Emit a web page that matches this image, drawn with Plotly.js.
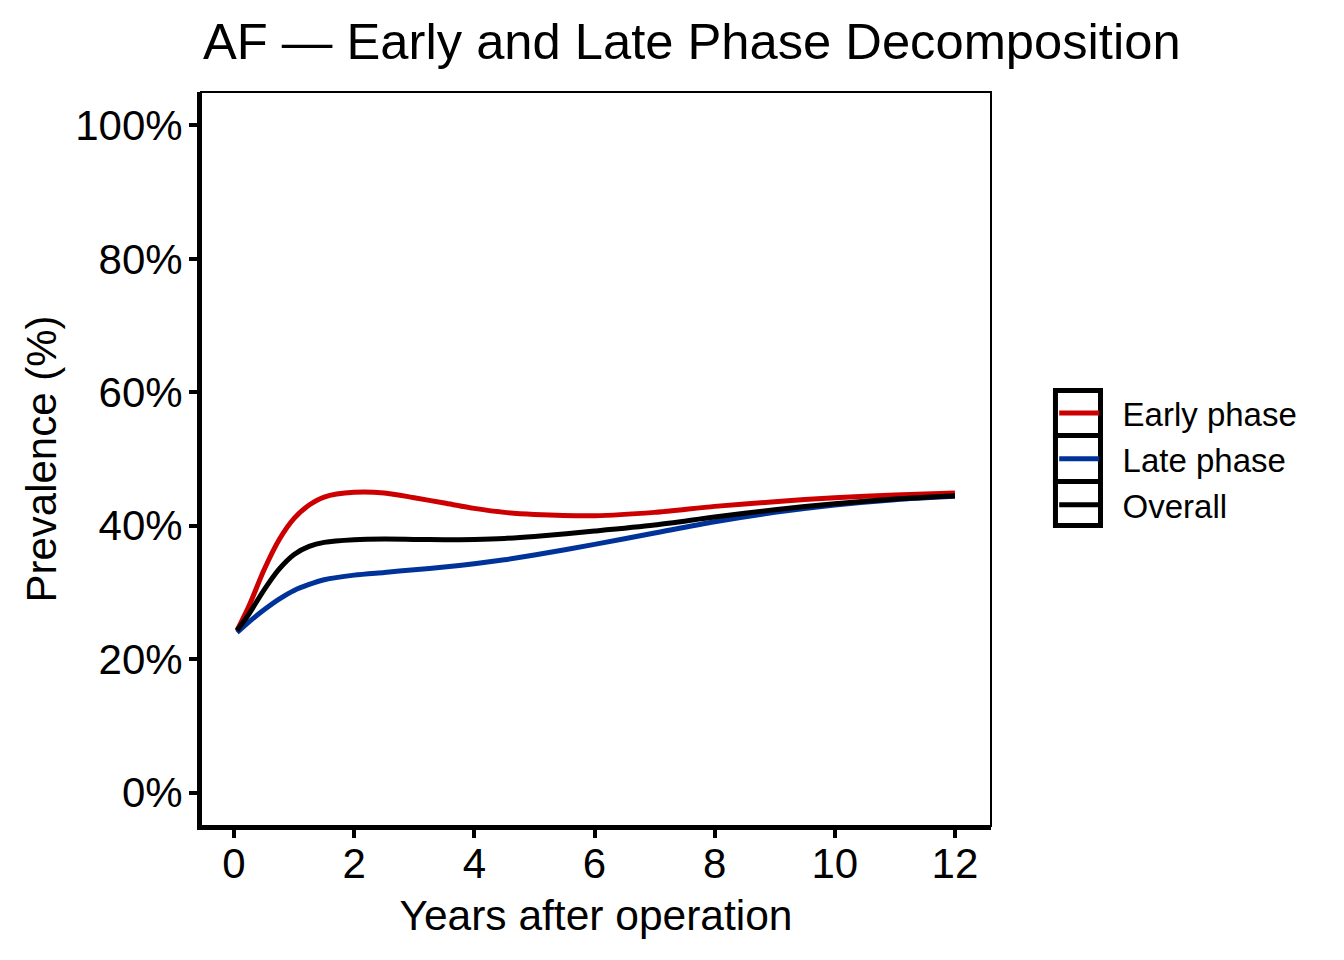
<!DOCTYPE html>
<html>
<head>
<meta charset="utf-8">
<script src="https://cdn.plot.ly/plotly-3.0.1.min.js"></script>
<style>html,body{margin:0;padding:0;background:#fff;}#chart{width:1344px;height:960px;}</style>
</head>
<body>
<div id="chart"></div>
<script>
const years   = [0.05, 0.25, 0.5, 0.75, 1, 1.25, 1.5, 2, 2.5, 3, 3.5, 4, 4.5, 5, 6, 7, 8, 9, 10, 11, 12];
const early   = [24.3, 28.0, 33.4, 37.9, 41.1, 43.1, 44.3, 45.0, 44.9, 44.2, 43.4, 42.6, 42.0, 41.7, 41.5, 42.0, 42.9, 43.6, 44.2, 44.6, 44.9];
const late    = [24.0, 25.6, 27.4, 29.0, 30.3, 31.2, 31.9, 32.6, 33.0, 33.4, 33.8, 34.3, 34.9, 35.6, 37.2, 38.9, 40.6, 42.0, 43.1, 43.9, 44.4];
const overall = [24.3, 26.8, 30.4, 33.5, 35.7, 36.9, 37.5, 37.9, 38.0, 37.95, 37.9, 37.95, 38.1, 38.4, 39.2, 40.1, 41.3, 42.4, 43.3, 44.0, 44.5];
const seriesNames = ["Early phase", "Late phase", "Overall"];
const seriesColors = ["#CC0000", "#003399", "#000000"];
const yTicks = [0, 20, 40, 60, 80, 100];
const xTicks = [0, 2, 4, 6, 8, 10, 12];

const FONT = "Liberation Sans, Arial, Helvetica, sans-serif";
const seriesValues = [early, late, overall];
const traces = seriesValues.map((vals, i) => ({
  type: "scatter", mode: "lines", x: years, y: vals,
  name: "\u00a0\u00a0" + seriesNames[i],
  line: {color: seriesColors[i], width: 5, shape: "spline", smoothing: 0.8}
}));

// legend key boxes (ggplot-style bordered keys)
const keyEdges = [0.5933, 0.5320, 0.4693, 0.4094];
const shapes = [{type: "rect", xref: "paper", yref: "paper", x0: 0, x1: 1, y0: 0, y1: 1,
  line: {color: "#000", width: 2}, layer: "above"}];
for (let i = 0; i < 3; i++) {
  shapes.push({type: "rect", xref: "paper", yref: "paper", x0: 1.0816, x1: 1.1386,
    y0: keyEdges[i + 1], y1: keyEdges[i], line: {color: "#000", width: 5}});
}

const layout = {
  width: 1344, height: 960,
  margin: {l: 201, r: 353, t: 92, b: 134},
  paper_bgcolor: "#fff", plot_bgcolor: "#fff",
  font: {family: FONT, color: "#000"},
  title: {text: "AF — Early and Late Phase Decomposition", font: {size: 50.7, color: "#000"},
    x: 0.151, xanchor: "left", xref: "container", y: 0.957, yanchor: "middle", yref: "container"},
  xaxis: {range: [-0.55, 12.6], tickvals: xTicks, ticktext: xTicks.map(String),
    showline: true, linewidth: 4, linecolor: "#000", ticks: "outside", ticklen: 8, tickwidth: 4,
    tickcolor: "#000", showgrid: false, zeroline: false, tickfont: {size: 42},
    ticklabelstandoff: -10,
    title: {text: "Years after operation", font: {size: 42.5}, standoff: 15}},
  yaxis: {range: [-5, 105], tickvals: yTicks, ticktext: yTicks.map(v => v + "%"),
    showline: true, linewidth: 4, linecolor: "#000", ticks: "outside", ticklen: 8, tickwidth: 4,
    tickcolor: "#000", showgrid: false, zeroline: false, tickfont: {size: 42},
    ticklabelstandoff: -2,
    title: {text: "Prevalence (%)", font: {size: 42}, standoff: 6}},
  showlegend: true,
  legend: {x: 1.08, xanchor: "left", y: 0.5, yanchor: "middle", font: {size: 33},
    itemwidth: 40, tracegroupgap: 0, bgcolor: "rgba(0,0,0,0)"},
  shapes: shapes
};

Plotly.newPlot("chart", traces, layout, {displayModeBar: false, staticPlot: true});
</script>
</body>
</html>
